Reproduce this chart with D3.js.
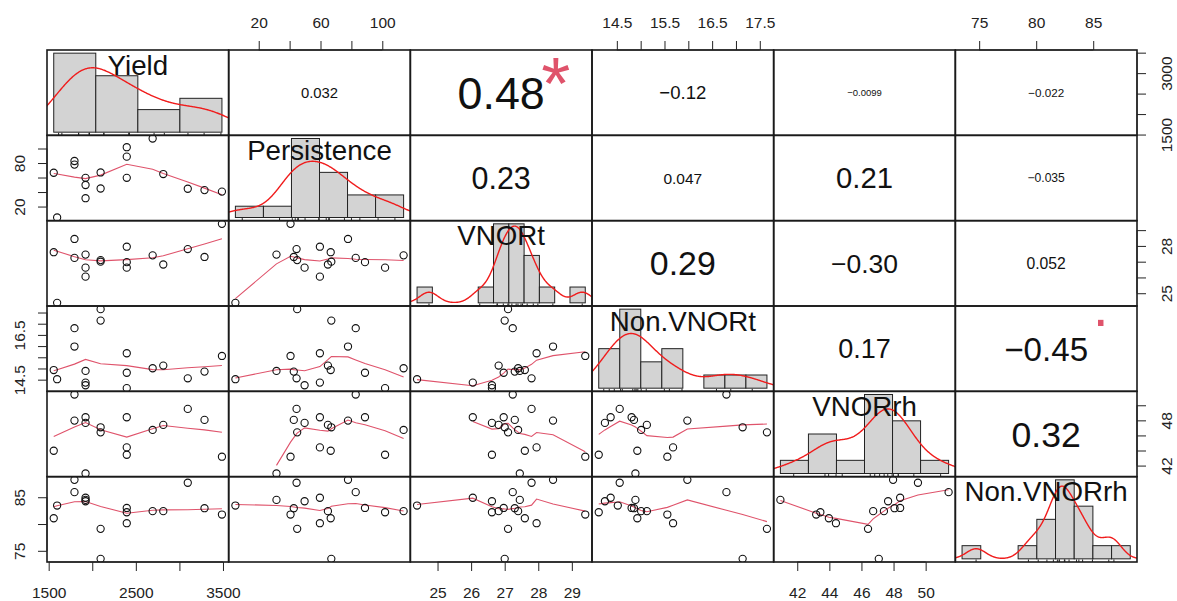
<!DOCTYPE html>
<html>
<head>
<meta charset="utf-8">
<script src="https://cdn.jsdelivr.net/npm/d3@7"></script>
<style>
  body { margin: 0; background: #fff; }
  svg { font-family: "Liberation Sans", Arial, sans-serif; }
</style>
</head>
<body>
<script>
'use strict'

// one entry per field plot (17), null = missing
const varNames = ["Yield", "Persistence", "VNORt", "Non.VNORt", "VNORrh", "Non.VNORrh"];
const yieldVals = [1558, 1597, 1796, 1796, 1923, 1923, 1923, 2096, 2096, 2396, 2396, 2396, 2693, 2815, 3096, 3288, 3488];
const persistenceVals = [66.6, 4.9, 77.8, 82.8, 31.5, 49.7, 59.6, 67.0, 44.9, 59.6, 88.8, 101.8, 113.8, 64.8, 44.5, 42.7, 40.6];
const vnortVals = [27.6, 24.39, 28.44, 27.24, 27.45, 26.62, 26.05, 27.0, 27.1, 27.95, 26.97, 26.62, 27.4, 26.82, 27.8, 27.3, 29.4];
const nonVnortVals = [14.93, 14.52, 15.98, 16.80, 14.89, 14.25, 14.37, 17.14, 17.65, 15.68, 14.81, 14.12, 15.01, 15.13, 14.56, 14.86, 15.56];
const vnorrhVals = [43.97, null, 47.97, 51.43, 40.95, 47.66, 48.41, 47.08, 46.41, 44.41, 48.41, 43.44, 46.73, 47.4, 49.52, 48.06, 43.18];
const nonVnorrhVals = [81.08, 83.45, 88.25, 85.95, 84.5, 84.25, 84.9, 73.5, 79.1, 80.15, 83.0, 82.2, 82.4, 82.4, 87.7, 82.95, 81.77];
const columns = [yieldVals, persistenceVals, vnortVals, nonVnortVals, vnorrhVals, nonVnorrhVals];

// printed correlations (upper triangle) and significance marks
const corLabels = [
	[null, "0.032", "0.48", "−0.12", "−0.0099", "−0.022"],
	[null, null, "0.23", "0.047", "0.21", "−0.035"],
	[null, null, null, "0.29", "−0.30", "0.052"],
	[null, null, null, null, "0.17", "−0.45"],
	[null, null, null, null, null, "0.32"]
];
const signifMarks = [[0, 2, "*"], [3, 5, "."]];

const binWidths = [500, 20, 0.5, 0.5, 2, 2];
const tickValues = [
	[1500, 2000, 2500, 3000, 3500],
	[20, 40, 60, 80, 100],
	[25, 26, 27, 28, 29],
	[14.5, 15, 15.5, 16, 16.5, 17, 17.5],
	[42, 44, 46, 48, 50],
	[75, 80, 85]
];
// labels kept on top/bottom axes, and on left/right axes
const edgeLabels = [[1500, 2500, 3500], [20, 60, 100], [25, 26, 27, 28, 29], [14.5, 15.5, 16.5, 17.5], [42, 44, 46, 48, 50], [75, 80, 85]];
const sideLabels = [[1500, 3000], [20, 80], [25, 28], [14.5, 16.5], [42, 48], [75, 85]];

const w = 1177, h = 601;
const gridLeft = 47, gridRight = 1137, gridTop = 50, gridBottom = 562;
const nv = varNames.length;
const cellW = (gridRight - gridLeft) / nv;
const cellH = (gridBottom - gridTop) / nv;

const svg = d3.select("body").append("svg")
	.attr("width", w)
	.attr("height", h);

svg.append("rect").attr("width", w).attr("height", h).attr("fill", "#fff");

const padded = (v) => {
	const e = d3.extent(v.filter(d => d != null));
	const s = (e[1] - e[0]) * 0.04;
	return [e[0] - s, e[1] + s];
};

const xScales = columns.map((v, j) => d3.scaleLinear().domain(padded(v))
	.range([gridLeft + j * cellW, gridLeft + (j + 1) * cellW]));
const yScales = columns.map((v, i) => d3.scaleLinear().domain(padded(v))
	.range([gridTop + (i + 1) * cellH, gridTop + i * cellH]));

const defs = svg.append("defs");
for (let i = 0; i < nv; i++) {
	for (let j = 0; j < nv; j++) {
		defs.append("clipPath").attr("id", `clip-${i}-${j}`)
			.append("rect")
			.attr("x", gridLeft + j * cellW).attr("y", gridTop + i * cellH)
			.attr("width", cellW).attr("height", cellH);
	}
}

// port of R's clowess
function lowess(xIn, yIn, f = 2 / 3, nsteps = 3) {
	const idx = d3.range(xIn.length).sort((a, b) => xIn[a] - xIn[b] || a - b);
	const x = idx.map(k => xIn[k]), y = idx.map(k => yIn[k]);
	const n = x.length;
	const ys = new Array(n).fill(0), rw = new Array(n).fill(1), res = new Array(n).fill(0), wt = new Array(n).fill(0);
	const range = x[n - 1] - x[0];
	const delta = 0.01 * range;
	const ns = Math.max(2, Math.min(n, Math.floor(f * n + 1e-7)));

	function lowest(xs, nleft, nright, userw) {
		const hh = Math.max(xs - x[nleft], x[nright] - xs);
		const h9 = 0.999 * hh, h1 = 0.001 * hh;
		let a = 0, j = nleft;
		while (j < n) {
			wt[j] = 0;
			const r = Math.abs(x[j] - xs);
			if (r <= h9) {
				wt[j] = r <= h1 ? 1 : Math.pow(1 - Math.pow(r / hh, 3), 3);
				if (userw) wt[j] *= rw[j];
				a += wt[j];
			} else if (x[j] > xs) break;
			j++;
		}
		const nrt = j - 1;
		if (a <= 0) return null;
		for (j = nleft; j <= nrt; j++) wt[j] /= a;
		if (hh > 0) {
			a = 0;
			for (j = nleft; j <= nrt; j++) a += wt[j] * x[j];
			let b = xs - a, c = 0;
			for (j = nleft; j <= nrt; j++) c += wt[j] * (x[j] - a) * (x[j] - a);
			if (Math.sqrt(c) > 0.001 * range) {
				b /= c;
				for (j = nleft; j <= nrt; j++) wt[j] *= (b * (x[j] - a) + 1);
			}
		}
		let out = 0;
		for (j = nleft; j <= nrt; j++) out += wt[j] * y[j];
		return out;
	}

	for (let iter = 1; iter <= nsteps + 1; iter++) {
		let nleft = 0, nright = ns - 1, last = -1, i = 0;
		for (;;) {
			if (nright < n - 1) {
				const d1 = x[i] - x[nleft], d2 = x[nright + 1] - x[i];
				if (d1 > d2) { nleft++; nright++; continue; }
			}
			const v = lowest(x[i], nleft, nright, iter > 1);
			ys[i] = v === null ? y[i] : v;
			if (last < i - 1) {
				const denom = x[i] - x[last];
				for (let j = last + 1; j < i; j++) {
					const alpha = (x[j] - x[last]) / denom;
					ys[j] = alpha * ys[i] + (1 - alpha) * ys[last];
				}
			}
			last = i;
			const cut = x[last] + delta;
			for (i = last + 1; i < n; i++) {
				if (x[i] > cut) break;
				if (x[i] === x[last]) { ys[i] = ys[last]; last = i; }
			}
			i = Math.max(last + 1, i - 1);
			if (last >= n - 1) break;
		}
		for (let k = 0; k < n; k++) res[k] = y[k] - ys[k];
		const sc = d3.sum(res, Math.abs) / n;
		if (iter > nsteps) break;
		const sorted = res.map(Math.abs).sort((a, b) => a - b);
		const m1 = Math.floor(n / 2);
		const cmad = n % 2 === 0 ? 3 * (sorted[m1] + sorted[n - m1 - 1]) : 6 * sorted[m1];
		if (cmad < 1e-7 * sc) break;
		const c9 = 0.999 * cmad, c1 = 0.001 * cmad;
		for (let k = 0; k < n; k++) {
			const r = Math.abs(res[k]);
			rw[k] = r <= c1 ? 1 : r <= c9 ? Math.pow(1 - (r / cmad) * (r / cmad), 2) : 0;
		}
	}
	return x.map((xv, k) => [xv, ys[k]]);
}

// gaussian density with bw.nrd0, like R's density()
function density(v) {
	const n = v.length;
	const s = v.slice().sort((a, b) => a - b);
	const sd = d3.deviation(s);
	const iqr = d3.quantileSorted(s, 0.75) - d3.quantileSorted(s, 0.25);
	let lo = Math.min(sd, iqr / 1.34);
	if (!lo) lo = sd || Math.abs(s[0]) || 1;
	const bw = 0.9 * lo * Math.pow(n, -0.2);
	const from = s[0] - 3 * bw, to = s[n - 1] + 3 * bw;
	return d3.range(512).map(k => {
		const t = from + (to - from) * k / 511;
		const d = d3.mean(s, xi => Math.exp(-0.5 * ((t - xi) / bw) ** 2)) / (bw * Math.sqrt(2 * Math.PI));
		return [t, d];
	});
}

const cells = svg.append("g");

// lower panels: scatter + lowess
for (let i = 1; i < nv; i++) {
	for (let j = 0; j < i; j++) {
		const pts = d3.range(columns[0].length)
			.filter(k => columns[j][k] != null && columns[i][k] != null)
			.map(k => [columns[j][k], columns[i][k]]);
		const g = cells.append("g").attr("clip-path", `url(#clip-${i}-${j})`);
		const sm = lowess(pts.map(p => p[0]), pts.map(p => p[1]));
		g.append("path")
			.attr("d", d3.line().x(d => xScales[j](d[0])).y(d => yScales[i](d[1]))(sm))
			.attr("fill", "none")
			.attr("stroke", "#DF536B")
			.attr("stroke-width", 1.1);
		g.selectAll("circle")
			.data(pts)
			.enter()
			.append("circle")
			.attr("cx", d => xScales[j](d[0]))
			.attr("cy", d => yScales[i](d[1]))
			.attr("r", 3.6)
			.attr("fill", "none")
			.attr("stroke", "#111")
			.attr("stroke-width", 1.1);
	}
}

// diagonal: histogram, density, rug, name
for (let i = 0; i < nv; i++) {
	const vals = columns[i].filter(d => d != null);
	const bwid = binWidths[i];
	const b0 = Math.floor(d3.min(vals) / bwid) * bwid;
	const nb = Math.ceil(d3.max(vals) / bwid) - Math.floor(d3.min(vals) / bwid);
	const counts = new Array(nb).fill(0);
	vals.forEach(v => {
		const k = Math.max(0, Math.ceil((v - b0) / bwid - 1e-9) - 1);
		counts[k]++;
	});
	const dens = counts.map(c => c / (vals.length * bwid));
	const bN = b0 + nb * bwid;
	const hx = d3.scaleLinear()
		.domain([b0 - 0.04 * (bN - b0), bN + 0.04 * (bN - b0)])
		.range([gridLeft + i * cellW, gridLeft + (i + 1) * cellW]);
	const maxD = d3.max(dens);
	const hy = d3.scaleLinear()
		.domain([-0.04 * maxD, 1.04 * maxD])
		.range([gridTop + (i + 1) * cellH, gridTop + i * cellH]);

	const g = cells.append("g").attr("clip-path", `url(#clip-${i}-${i})`);
	g.selectAll("rect")
		.data(dens)
		.enter()
		.append("rect")
		.attr("x", (d, k) => hx(b0 + k * bwid))
		.attr("width", hx(b0 + bwid) - hx(b0))
		.attr("y", d => hy(d))
		.attr("height", d => hy(0) - hy(d))
		.attr("fill", d => d > 0 ? "#d3d3d3" : "none")
		.attr("stroke", d => d > 0 ? "#222" : "none")
		.attr("stroke-width", 1);

	g.append("path")
		.attr("d", d3.line().x(d => hx(d[0])).y(d => hy(d[1]))(density(vals)))
		.attr("fill", "none")
		.attr("stroke", "#f01c1c")
		.attr("stroke-width", 1.4);

	g.selectAll("line.rug")
		.data(vals)
		.enter()
		.append("line")
		.attr("class", "rug")
		.attr("x1", d => hx(d)).attr("x2", d => hx(d))
		.attr("y1", gridTop + (i + 1) * cellH)
		.attr("y2", gridTop + (i + 1) * cellH - 0.03 * cellH)
		.attr("stroke", "#222")
		.attr("stroke-width", 1);

	cells.append("text")
		.attr("x", gridLeft + (i + 0.5) * cellW)
		.attr("y", gridTop + i * cellH + 24.5)
		.attr("text-anchor", "middle")
		.attr("font-size", 27.7)
		.attr("fill", "#111")
		.text(varNames[i]);
}

// upper panels: correlation text sized by |r|
function fitSize(txt, target) {
	const t = svg.append("text").attr("font-size", 100).text(txt);
	const len = t.node().getComputedTextLength();
	t.remove();
	return 100 * target / len;
}

const baseSize = {};
for (let i = 0; i < nv; i++) {
	for (let j = i + 1; j < nv; j++) {
		const txt = corLabels[i][j];
		const r = Math.abs(+txt.replace("−", "-"));
		const u = d3.scaleLinear().range([gridLeft + j * cellW, gridLeft + (j + 1) * cellW]);
		const v = d3.scaleLinear().range([gridTop + (i + 1) * cellH, gridTop + i * cellH]);
		const base = fitSize(txt, 0.8 * cellW);
		baseSize[i + "-" + j] = base;
		const fs = base * (r + 0.3) / 1.3;
		cells.append("text")
			.attr("x", u(0.5))
			.attr("y", v(0.5) + 0.358 * fs)
			.attr("text-anchor", "middle")
			.attr("font-size", fs)
			.attr("fill", "#111")
			.text(txt);
	}
}

signifMarks.forEach(([i, j, sym]) => {
	const u = d3.scaleLinear().range([gridLeft + j * cellW, gridLeft + (j + 1) * cellW]);
	const v = d3.scaleLinear().range([gridTop + (i + 1) * cellH, gridTop + i * cellH]);
	const base = baseSize[i + "-" + j];
	const lift = sym === "*" ? 0.56 : 0.05;
	cells.append("text")
		.attr("x", u(0.8))
		.attr("y", v(0.8) + lift * base)
		.attr("text-anchor", "middle")
		.attr("font-size", base)
		.attr("fill", "#DF536B")
		.text(sym);
});

// panel boxes
for (let i = 0; i < nv; i++) {
	for (let j = 0; j < nv; j++) {
		svg.append("rect")
			.attr("x", gridLeft + j * cellW)
			.attr("y", gridTop + i * cellH)
			.attr("width", cellW)
			.attr("height", cellH)
			.attr("fill", "none")
			.attr("stroke", "#1a1a1a")
			.attr("stroke-width", 1.6);
	}
}

// axes
const fmt = (list) => (d) => list.includes(d) ? String(d) : "";

function trimDomain(g, scale, ticks, vertical) {
	const a = scale(ticks[0]), b = scale(ticks[ticks.length - 1]);
	g.select(".domain").attr("d", vertical ? `M0,${a}V${b}` : `M${a},0H${b}`);
}

function styleAxis(g) {
	g.selectAll("text").attr("font-size", 15.5).attr("fill", "#222")
		.attr("font-family", "Liberation Sans, Arial, sans-serif");
	g.selectAll("line, path").attr("stroke", "#222");
}

for (let j = 0; j < nv; j++) {
	if (j % 2 === 1) {
		const g = svg.append("g")
			.attr("transform", "translate(0," + gridTop + ")")
			.call(d3.axisTop(xScales[j]).tickValues(tickValues[j]).tickFormat(fmt(edgeLabels[j]))
				.tickSizeInner(9).tickSizeOuter(0).tickPadding(13));
		trimDomain(g, xScales[j], tickValues[j], false);
		styleAxis(g);
	} else {
		const g = svg.append("g")
			.attr("transform", "translate(0," + gridBottom + ")")
			.call(d3.axisBottom(xScales[j]).tickValues(tickValues[j]).tickFormat(fmt(edgeLabels[j]))
				.tickSizeInner(9).tickSizeOuter(0).tickPadding(16));
		trimDomain(g, xScales[j], tickValues[j], false);
		styleAxis(g);
	}
}

for (let i = 0; i < nv; i++) {
	const left = i % 2 === 1;
	const axis = (left ? d3.axisLeft(yScales[i]) : d3.axisRight(yScales[i]))
		.tickValues(tickValues[i]).tickFormat(fmt(sideLabels[i]))
		.tickSizeInner(9).tickSizeOuter(0);
	const g = svg.append("g")
		.attr("transform", "translate(" + (left ? gridLeft : gridRight) + ",0)")
		.call(axis);
	trimDomain(g, yScales[i], tickValues[i], true);
	styleAxis(g);
	g.selectAll(".tick text")
		.attr("x", 0).attr("y", 0).attr("dy", 0)
		.attr("text-anchor", "middle")
		.attr("transform", "translate(" + (left ? -22 : 34.7) + ",0) rotate(-90)");
}
</script>
</body>
</html>
